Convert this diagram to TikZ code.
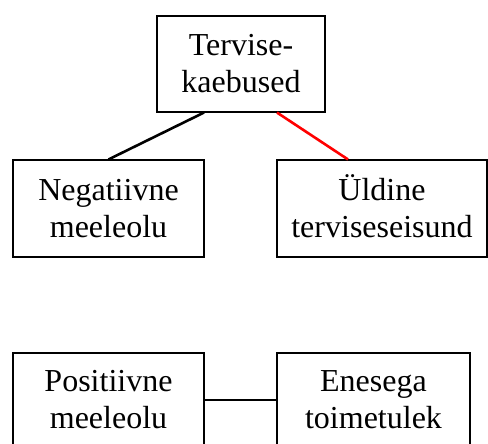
\documentclass[tikz,border=0pt]{standalone}
\usepackage{fontspec}
\setmainfont{Liberation Serif}
\begin{document}
\begin{tikzpicture}[x=1pt,y=-1pt,
  box/.style={draw=black,line width=1.1pt,inner sep=0pt,align=center,
    font=\fontsize{32}{37}\selectfont},
  link/.style={line width=2.6pt}]
\useasboundingbox (0,0) rectangle (488,444);
\clip (0,0) rectangle (488,444);
\node[box,minimum width=168pt,minimum height=96pt] (top) at (241,64) {Tervise-\\kaebused};
\node[box,minimum width=191pt,minimum height=97pt] (neg) at (108.5,208.5) {Negatiivne\\meeleolu};
\node[box,minimum width=210pt,minimum height=97pt] (uld) at (382,208.5) {\smash{Ü}ldine\\terviseseisund};
\node[box,minimum width=191pt,minimum height=94pt] (pos) at (108.5,400) {Positiivne\\meeleolu};
\node[box,minimum width=193pt,minimum height=94pt] (ene) at (373.5,400) {Enesega\\toimetulek};
\draw[link] ([xshift=-37pt]top.south) -- (neg.north);
\draw[link,red] ([xshift=36pt]top.south) -- ([xshift=-34pt]uld.north);
\draw[link] (pos.east) -- (ene.west);
\end{tikzpicture}
\end{document}
